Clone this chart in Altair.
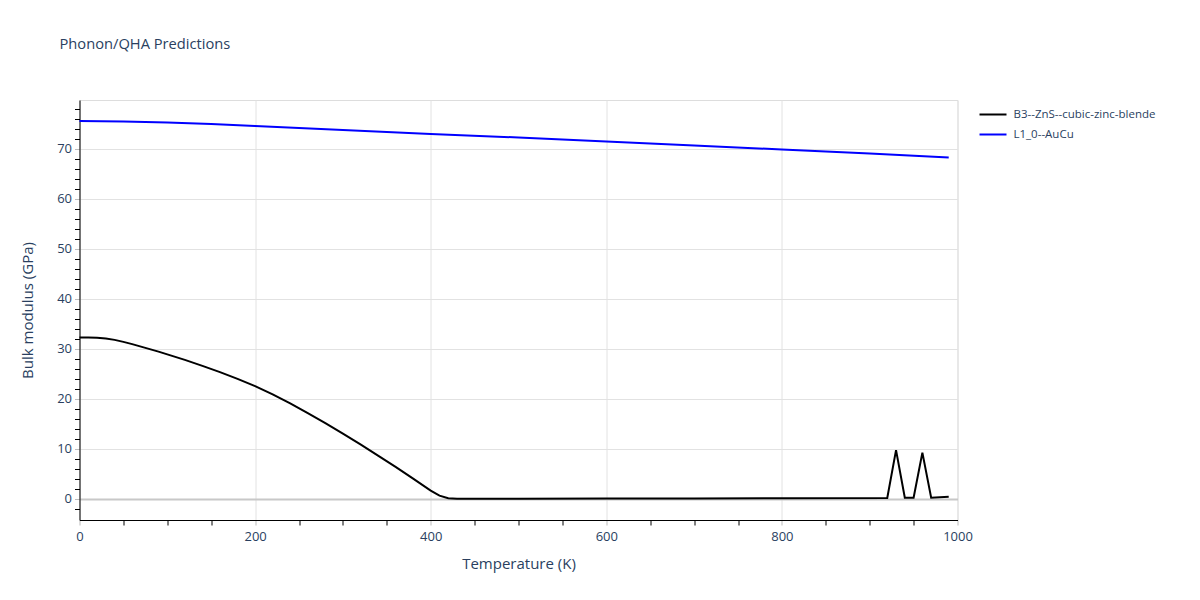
import altair as alt
import pandas as pd

# Black series: B3--ZnS--cubic-zinc-blende
t_zns = [0, 10, 20, 30, 40, 50, 60, 70, 80, 90, 100, 120, 140, 160, 180, 200,
         220, 240, 260, 280, 300, 320, 340, 360, 380, 400, 410, 420, 430, 500,
         600, 700, 800, 920, 930, 940, 950, 960, 970, 990]
b_zns = [32.2, 32.2, 32.15, 32.0, 31.75, 31.35, 30.9, 30.4, 29.9, 29.4, 28.85, 27.75,
         26.55, 25.3, 23.95, 22.5, 20.85, 19.05, 17.1, 15.1, 13.0, 10.85, 8.6, 6.35,
         4.0, 1.6, 0.6, 0.1, 0.0, 0.0, 0.02, 0.06, 0.1, 0.15, 9.7, 0.2, 0.2, 9.2,
         0.2, 0.4]

# Blue series: L1_0--AuCu
t_aucu = [0, 50, 100, 150, 200, 300, 400, 500, 600, 700, 800, 900, 990]
b_aucu = [75.5, 75.4, 75.2, 74.9, 74.5, 73.7, 72.9, 72.2, 71.4, 70.6, 69.8, 69.0, 68.2]

names = ["B3--ZnS--cubic-zinc-blende", "L1_0--AuCu"]
colors = ["#000000", "#0000ff"]

x_major = [0, 200, 400, 600, 800, 1000]
x_minor = [v for v in range(50, 1000, 50) if v % 200 != 0]
y_major = [0, 10, 20, 30, 40, 50, 60, 70]
y_minor = [v for v in range(-2, 80, 2) if v % 10 != 0]

df = pd.concat([
    pd.DataFrame({"T": t_zns, "B": b_zns, "name": names[0]}),
    pd.DataFrame({"T": t_aucu, "B": b_aucu, "name": names[1]}),
])

FONT = "Open Sans"
FC = "#2a3f5f"

xs = alt.Scale(domain=[0, 1000], nice=False, zero=False)
ys = alt.Scale(domain=[-4.26, 79.7], nice=False, zero=False)

major_x = alt.Axis(values=x_major, orient="bottom", title="Temperature (K)", format="d",
                   labelFlush=False,
                   grid=True, gridColor="#e2e2e2", tickColor="#bbbbbb", tickSize=5,
                   domainColor="#000000", labelColor=FC, labelFont=FONT, labelFontSize=13,
                   labelPadding=5, titleColor=FC, titleFont=FONT, titleFontSize=15,
                   titleFontWeight="normal", titlePadding=13)
major_y = alt.Axis(values=y_major, orient="left", title="Bulk modulus (GPa)", format="d",
                   labelFlush=False,
                   grid=True,
                   gridColor={"condition": {"test": "datum.value === 0", "value": "#c8c8c8"}, "value": "#e2e2e2"},
                   gridWidth={"condition": {"test": "datum.value === 0", "value": 2}, "value": 1},
                   tickColor="#bbbbbb", tickSize=5,
                   domainColor="#000000", labelColor=FC, labelFont=FONT, labelFontSize=13,
                   labelPadding=3, titleColor=FC, titleFont=FONT, titleFontSize=15,
                   titleFontWeight="normal", titlePadding=21)
minor_x = alt.Axis(values=x_minor, orient="bottom", title=None, labels=False, grid=False,
                   domain=False, tickColor="#000000", tickSize=5)
minor_y = alt.Axis(values=y_minor, orient="left", title=None, labels=False, grid=False,
                   domain=False, tickColor="#000000", tickSize=5)

lines = alt.Chart(df).mark_line(strokeWidth=2).encode(
    x=alt.X("T:Q", scale=xs, axis=major_x),
    y=alt.Y("B:Q", scale=ys, axis=major_y),
    color=alt.Color("name:N", scale=alt.Scale(domain=names, range=colors),
                    legend=alt.Legend(title=None, orient="none", legendX=899, legendY=0,
                                      symbolType="stroke", symbolSize=729, symbolStrokeWidth=2,
                                      labelFont=FONT, labelFontSize=11.5, labelColor=FC,
                                      rowPadding=-8, labelOffset=6)),
)

minor = alt.Chart(df).mark_line(opacity=0).encode(
    x=alt.X("T:Q", scale=xs, axis=minor_x),
    y=alt.Y("B:Q", scale=ys, axis=minor_y),
)

chart = alt.layer(lines, minor).resolve_axis(x="independent", y="independent").properties(
    width=878, height=420,
    title=alt.TitleParams("Phonon/QHA Predictions", anchor="start", frame="group",
                          dx=-20, offset=48, font=FONT, fontSize=14.7, fontWeight="normal",
                          color=FC),
    autosize=alt.AutoSizeParams(type="none"),
    padding={"left": 71.5, "top": 92, "right": 220, "bottom": 70},
).configure_view(stroke=None).configure(background="white")

chart.save("out.html", embed_options={"renderer": "svg", "actions": False})
